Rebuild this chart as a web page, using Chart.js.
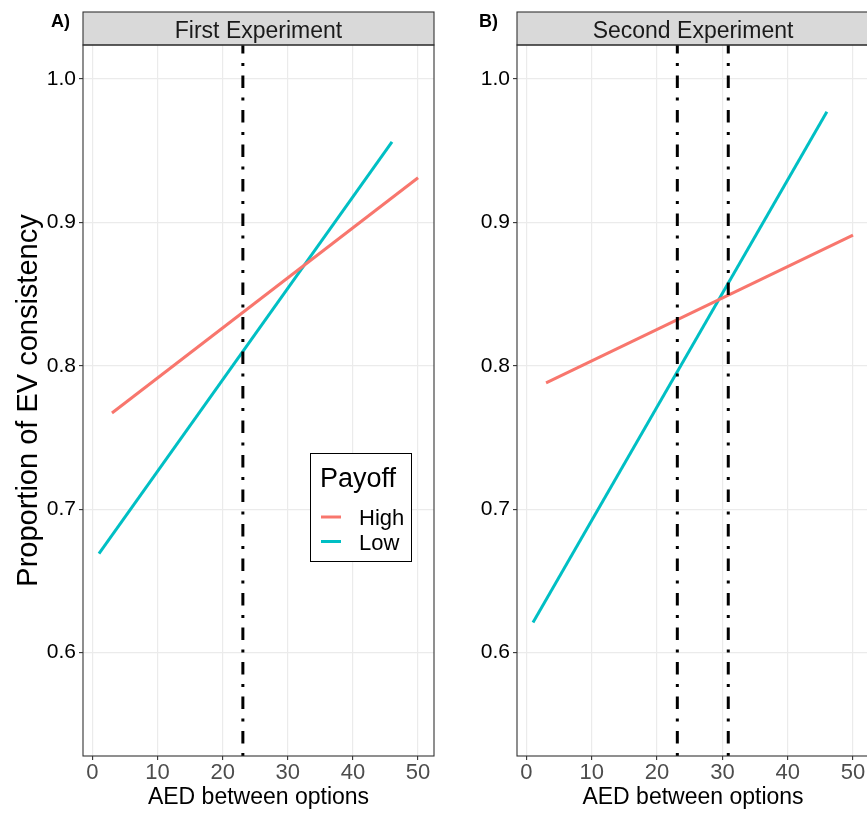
<!DOCTYPE html>
<html>
<head>
<meta charset="utf-8">
<script src="https://cdn.jsdelivr.net/npm/chart.js@4.4.1/dist/chart.umd.min.js"></script>
<style>
  html, body { margin: 0; padding: 0; background: #fff; overflow: hidden; width: 867px; height: 813px; }
  canvas { position: absolute; top: 0; }
  #panelA { left: 0; }
  #panelB { left: 440px; }
</style>
</head>
<body>
<canvas id="panelA" width="440" height="813"></canvas>
<canvas id="panelB" width="432" height="813"></canvas>
<script>
// axes shared by both panels
const xTicks = [0, 10, 20, 30, 40, 50];
const yTicks = [0.6, 0.7, 0.8, 0.9, 1.0];
const xLimits = [-1.45, 52.45];
const yLimits = [0.528, 1.0235];

const payoffLevels = ['High', 'Low'];
const payoffColors = ['#F8766D', '#00BFC4'];

// first experiment: fitted lines per payoff + AED cutoff
const firstHighX = [3, 50];
const firstHighY = [0.767, 0.931];
const firstLowX = [1, 46];
const firstLowY = [0.669, 0.956];
const firstCutoffs = [23.1];

// second experiment
const secondHighX = [3, 50];
const secondHighY = [0.788, 0.891];
const secondLowX = [1, 46];
const secondLowY = [0.621, 0.977];
const secondCutoffs = [23.1, 30.9];

const FONT = "'Liberation Sans', Arial, sans-serif";

function toPoints(xs, ys) {
    return xs.map((x, i) => ({ x: x, y: ys[i] }));
}

function buildDatasets(highX, highY, lowX, lowY, cutoffs) {
    // cutoffs first so they sit on top of the fitted lines
    const cutoffSets = cutoffs.map(c => ({
        label: 'cutoff',
        data: [{ x: c, y: yLimits[0] }, { x: c, y: yLimits[1] }],
        borderColor: '#000000',
        borderWidth: 3,
        borderDash: [3, 9.5, 12.5, 9.5],
        borderCapStyle: 'butt',
        pointRadius: 0
    }));

    const fits = [[highX, highY], [lowX, lowY]].map((s, i) => ({
        label: payoffLevels[i],
        data: toPoints(s[0], s[1]),
        borderColor: payoffColors[i],
        borderWidth: 3,
        pointRadius: 0,
        tension: 0
    }));

    return cutoffSets.concat(fits);
}

// strip header, panel tag and box around the plotting area
const panelFrame = {
    id: 'panelFrame',
    afterDraw(chart, args, opts) {
        const { ctx, chartArea: a } = chart;
        ctx.save();
        ctx.fillStyle = '#D9D9D9';
        ctx.fillRect(a.left, 12, a.right - a.left, a.top - 12);
        ctx.strokeStyle = '#333333';
        ctx.lineWidth = 1.1;
        ctx.strokeRect(a.left, 12, a.right - a.left, a.top - 12);
        ctx.strokeRect(a.left, a.top, a.right - a.left, a.bottom - a.top);

        ctx.fillStyle = '#1A1A1A';
        ctx.font = '23px ' + FONT;
        ctx.textAlign = 'center';
        ctx.textBaseline = 'alphabetic';
        ctx.fillText(opts.strip, (a.left + a.right) / 2, 37.5);

        ctx.fillStyle = '#000000';
        ctx.font = 'bold 18px ' + FONT;
        ctx.textAlign = 'left';
        ctx.fillText(opts.tag, opts.tagX, 27);
        ctx.restore();
    }
};

// boxed "Payoff" legend inside the first panel
const payoffLegend = {
    id: 'payoffLegend',
    afterDraw(chart, args, opts) {
        if (!opts.show) return;
        const ctx = chart.ctx;
        ctx.save();
        ctx.fillStyle = '#ffffff';
        ctx.fillRect(310, 453, 101, 108);
        ctx.strokeStyle = '#000000';
        ctx.lineWidth = 1;
        ctx.strokeRect(310.5, 453.5, 101, 108);

        ctx.fillStyle = '#000000';
        ctx.textAlign = 'left';
        ctx.textBaseline = 'alphabetic';
        ctx.font = '27px ' + FONT;
        ctx.fillText('Payoff', 320, 486.5);

        ctx.font = '22px ' + FONT;
        payoffLevels.forEach((name, i) => {
            const y = 517 + i * 24.5;
            ctx.strokeStyle = payoffColors[i];
            ctx.lineWidth = 3;
            ctx.beginPath();
            ctx.moveTo(321, y);
            ctx.lineTo(341, y);
            ctx.stroke();
            ctx.fillText(name, 359, y + 8.3);
        });
        ctx.restore();
    }
};

function panelOptions(cfg) {
    return {
        responsive: false,
        animation: false,
        layout: {
            padding: { top: 45, right: cfg.padRight, left: 0, bottom: 0 }
        },
        plugins: {
            legend: { display: false },
            tooltip: { enabled: false },
            panelFrame: { strip: cfg.strip, tag: cfg.tag, tagX: cfg.tagX },
            payoffLegend: { show: cfg.legend }
        },
        scales: {
            x: {
                type: 'linear',
                min: xLimits[0],
                max: xLimits[1],
                afterBuildTicks: s => { s.ticks = xTicks.map(v => ({ value: v })); },
                afterFit: s => { s.height = 57; },
                border: { display: false },
                grid: {
                    color: '#EBEBEB',
                    lineWidth: 1.2,
                    tickLength: 4,
                    tickColor: '#333333',
                    tickWidth: 1.1
                },
                ticks: {
                    color: '#4D4D4D',
                    font: { size: 22, family: FONT },
                    padding: 0,
                    maxRotation: 0,
                    autoSkip: false,
                    callback: v => v
                },
                title: {
                    display: true,
                    text: 'AED between options',
                    color: '#000000',
                    font: { size: 23, family: FONT },
                    padding: { top: 0, bottom: 2 }
                }
            },
            y: {
                type: 'linear',
                min: yLimits[0],
                max: yLimits[1],
                afterBuildTicks: s => { s.ticks = yTicks.map(v => ({ value: v })); },
                afterFit: s => { s.width = cfg.yWidth; },
                border: { display: false },
                grid: {
                    color: '#EBEBEB',
                    lineWidth: 1.2,
                    tickLength: 4,
                    tickColor: '#333333',
                    tickWidth: 1.1
                },
                ticks: {
                    color: '#000000',
                    font: { size: 21, family: FONT },
                    padding: 3,
                    autoSkip: false,
                    callback: v => v.toFixed(1)
                },
                title: {
                    display: cfg.yTitle,
                    text: 'Proportion of EV consistency',
                    color: '#000000',
                    font: { size: 29, family: FONT },
                    padding: { top: 12, bottom: 0 }
                }
            }
        }
    };
}

new Chart(document.getElementById('panelA'), {
    type: 'line',
    data: { datasets: buildDatasets(firstHighX, firstHighY, firstLowX, firstLowY, firstCutoffs) },
    options: panelOptions({
        padRight: 6, yWidth: 83, yTitle: true,
        strip: 'First Experiment', tag: 'A)', tagX: 51, legend: true
    }),
    plugins: [panelFrame, payoffLegend]
});

new Chart(document.getElementById('panelB'), {
    type: 'line',
    data: { datasets: buildDatasets(secondHighX, secondHighY, secondLowX, secondLowY, secondCutoffs) },
    options: panelOptions({
        padRight: 3, yWidth: 77, yTitle: false,
        strip: 'Second Experiment', tag: 'B)', tagX: 39, legend: false
    }),
    plugins: [panelFrame, payoffLegend]
});
</script>
</body>
</html>
